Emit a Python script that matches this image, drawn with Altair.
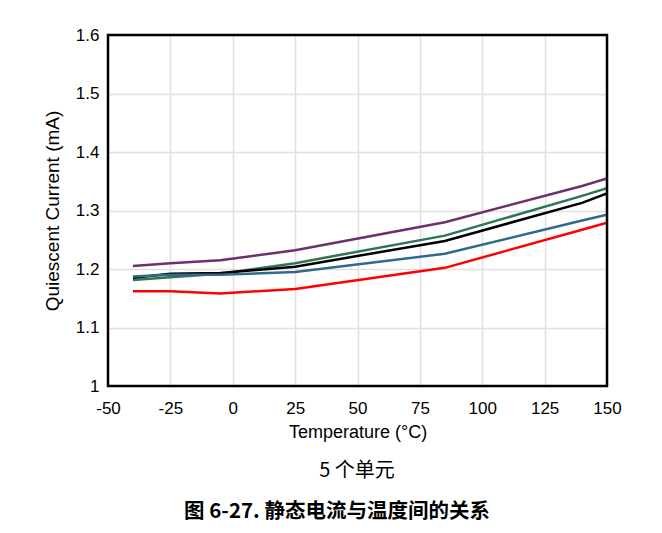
import altair as alt
import pandas as pd

temps = [-40, -25, -5, 25, 85, 140, 150]
unit1 = [1.205, 1.210, 1.215, 1.232, 1.280, 1.342, 1.355]
unit2 = [1.181, 1.186, 1.192, 1.210, 1.257, 1.325, 1.338]
unit3 = [1.185, 1.192, 1.193, 1.204, 1.248, 1.313, 1.329]
unit4 = [1.187, 1.190, 1.190, 1.195, 1.226, 1.283, 1.293]
unit5 = [1.162, 1.162, 1.158, 1.166, 1.202, 1.267, 1.279]

series = ["Unit 1", "Unit 2", "Unit 3", "Unit 4", "Unit 5"]
colors = ["#6e2f6e", "#2f7752", "#000000", "#2f6a8c", "#ff0000"]

rows = []
for name, vals in zip(series, [unit1, unit2, unit3, unit4, unit5]):
    for t, v in zip(temps, vals):
        rows.append({"Temperature": t, "Current": v, "Unit": name})
df = pd.DataFrame(rows)

FONT = "Liberation Sans"
CJK = "Noto Sans CJK SC"

lines = alt.Chart(df).mark_line(strokeWidth=2.5, clip=True).encode(
    x=alt.X("Temperature:Q",
            scale=alt.Scale(domain=[-50, 150], nice=False, zero=False),
            axis=alt.Axis(values=list(range(-50, 151, 25)), title="Temperature (°C)",
                          labelExpr="'' + datum.value", labelFlush=False, labelOverlap=False,
                          titleFontSize=18, titleFont=FONT, titleFontWeight="normal",
                          titleColor="#000", titlePadding=7,
                          labelFontSize=17, labelFont=FONT, labelColor="#000",
                          labelPadding=14, tickSize=0, domain=False,
                          gridColor="#e0e0e0", gridWidth=1.5)),
    y=alt.Y("Current:Q",
            scale=alt.Scale(domain=[1.0, 1.6], nice=False, zero=False),
            axis=alt.Axis(values=[1.0, 1.1, 1.2, 1.3, 1.4, 1.5, 1.6],
                          labelExpr="datum.value == 1 ? '1' : format(datum.value, '.1f')",
                          labelFlush=False, labelOverlap=False,
                          title="Quiescent Current (mA)",
                          titleFontSize=19, titleFont=FONT, titleFontWeight="normal",
                          titleColor="#000", titlePadding=13,
                          labelFontSize=17, labelFont=FONT, labelColor="#000",
                          labelPadding=9, tickSize=0, domain=False,
                          gridColor="#e0e0e0", gridWidth=1.5)),
    color=alt.Color("Unit:N", scale=alt.Scale(domain=series, range=colors), legend=None),
)

frame = alt.Chart(pd.DataFrame({"a": [0]})).mark_rect(
    fill="transparent", stroke="#000", strokeWidth=2.5
).encode(x=alt.value(0), x2=alt.value(499), y=alt.value(0), y2=alt.value(351))

caption = alt.Chart(pd.DataFrame({"t": ["5 个单元"]})).mark_text(
    font=CJK, fontSize=20, color="#000", align="center", baseline="middle"
).encode(text="t:N", x=alt.value(249), y=alt.value(436))

title = alt.Chart(pd.DataFrame({"t": ["图 6-27. 静态电流与温度间的关系"]})).mark_text(
    font=CJK, fontSize=20.5, fontWeight="bold", color="#000", align="center", baseline="middle"
).encode(text="t:N", x=alt.value(229), y=alt.value(477))

chart = alt.layer(lines, frame, caption, title).properties(
    width=499, height=351,
    autosize=alt.AutoSizeParams(type="none"),
    padding={"left": 100, "top": 27, "right": 47, "bottom": 139},
).configure(background="white").configure_view(strokeWidth=0)

chart.save("out.html", embed_options={"renderer": "svg", "actions": False})
